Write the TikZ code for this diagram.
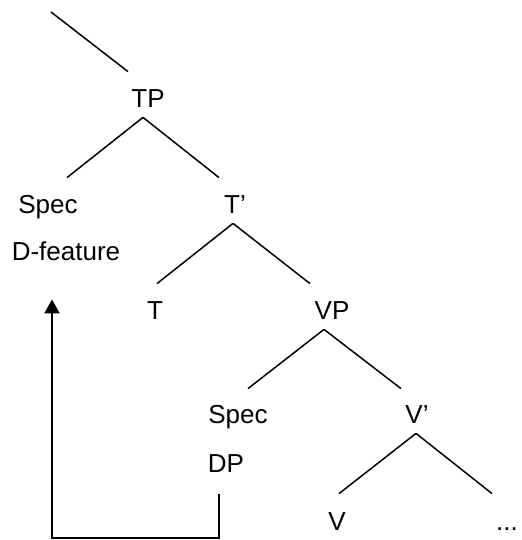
\documentclass[tikz,border=0pt]{standalone}
\usepackage{fontspec}
\setmainfont{Liberation Sans}
\usetikzlibrary{arrows.meta}
\begin{document}
\begin{tikzpicture}[x=0.5pt, y=-0.5pt,
        lbl/.style = {anchor=base, inner xsep=0pt, inner ysep=2pt,
                      text height=15pt, text depth=3pt},
       branch/.style = {line width=0.75pt},
         move/.style = {line width=1pt, -{Triangle[length=7pt,width=7.5pt]}},
             font = \fontsize{13}{15}\selectfont
                                ]
        \useasboundingbox (0,0) rectangle (521,540);
        % labels
        \coordinate (up) at (51,12);
        \node[lbl] (TP)    at (148,107) {TP};
        \node[lbl] (SpecT) at (48,213)  {Spec};
        \node[lbl] (Dfeat) at (66,260)  {D-feature};
        \node[lbl] (Tbar)  at (235,213) {T’};
        \node[lbl] (T)     at (155,319) {T};
        \node[lbl] (VP)    at (332,319) {VP};
        \node[lbl] (SpecV) at (238,423) {Spec};
        \node[lbl] (DP)    at (226,472) {DP};
        \node[lbl] (Vbar)  at (417,423) {V’};
        \node[lbl] (V)     at (337,530) {V};
        \node[lbl] (dots)  at (507,530) {...};

        % branches
        \draw[branch] (up) -- ([shift={(-20,-1)}]TP.north);
        \draw[branch] ([shift={(-5,0)}]TP.south) -- ([shift={(19,-1)}]SpecT.north);
        \draw[branch] ([shift={(-5,0)}]TP.south) -- ([shift={(-16,-1)}]Tbar.north);
        \draw[branch] ([shift={(-2,0)}]Tbar.south) -- ([shift={(2,-1)}]T.north);
        \draw[branch] ([shift={(-2,0)}]Tbar.south) -- ([shift={(-22,-1)}]VP.north);
        \draw[branch] ([shift={(-8,0)}]VP.south) -- ([shift={(10,0)}]SpecV.north);
        \draw[branch] ([shift={(-8,0)}]VP.south) -- ([shift={(-16,0)}]Vbar.north);
        \draw[branch] ([shift={(-1,0)}]Vbar.south) -- ([shift={(2,-2)}]V.north);
        \draw[branch] ([shift={(-1,0)}]Vbar.south) -- ([shift={(-15,-2)}]dots.north);

        % movement
        \draw[move] ([shift={(-7,12)}]DP.south) -- ++(0,44)
                    -| ([shift={(-14,29)}]Dfeat.south);
    \end{tikzpicture}
\end{document}
